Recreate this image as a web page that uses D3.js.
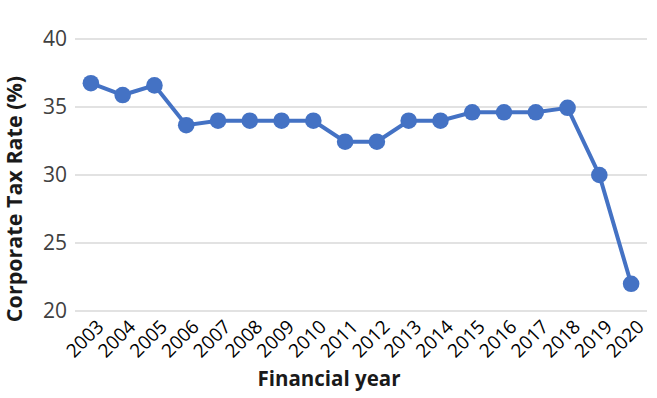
<!DOCTYPE html>
<html><head><meta charset="utf-8">
<script src="https://cdn.jsdelivr.net/npm/d3@7"></script>
<style>body{margin:0;background:#fff;} svg{display:block;}</style>
</head><body>
<script>
const years = ["2003","2004","2005","2006","2007","2008","2009","2010","2011","2012","2013","2014","2015","2016","2017","2018","2019","2020"];
const taxRate = [36.75,35.88,36.59,33.66,33.99,33.99,33.99,33.99,32.45,32.45,33.99,33.99,34.61,34.61,34.61,34.94,30,22];
const yTicks = [20,25,30,35,40];

const W = 657, H = 398;
const svg = d3.select("body").append("svg").attr("width", W).attr("height", H);
const x = d3.scaleBand().domain(years).range([75, 647]);
const y = d3.scaleLinear().domain([20, 40]).range([311, 39]);

// gridlines
svg.append("g").selectAll("line").data(yTicks).join("line")
  .attr("x1", 75).attr("x2", 647)
  .attr("y1", d => y(d)).attr("y2", d => y(d))
  .attr("stroke", "#d9d9d9").attr("stroke-width", 1.5);

// y axis labels
const yAxis = d3.axisLeft(y).tickValues(yTicks).tickSize(0).tickPadding(8);
const gy = svg.append("g").attr("transform", "translate(75,0)").call(yAxis);
gy.select(".domain").remove();
gy.selectAll("text").attr("font-family", "Open Sans").attr("font-size", 21).attr("fill", "#404040");

// x axis labels
const xAxis = d3.axisBottom(x).tickSize(0).tickPadding(0);
const gx = svg.append("g").attr("transform", "translate(0,311)").call(xAxis);
gx.select(".domain").remove();
gx.selectAll("text")
  .attr("font-family", "Open Sans").attr("font-size", 19).attr("fill", "#000")
  .attr("text-anchor", "end").attr("dy", 0).attr("y", 0)
  .attr("transform", "translate(14,17) rotate(-45)");

// line
const line = d3.line().x((d, i) => x(years[i]) + x.bandwidth() / 2).y(d => y(d));
svg.append("path").datum(taxRate).attr("d", line)
  .attr("fill", "none").attr("stroke", "#4472C4").attr("stroke-width", 4);
svg.append("g").selectAll("circle").data(taxRate).join("circle")
  .attr("cx", (d, i) => x(years[i]) + x.bandwidth() / 2).attr("cy", d => y(d))
  .attr("r", 8.3).attr("fill", "#4472C4");

// axis titles
svg.append("text").attr("x", 329).attr("y", 386).attr("text-anchor", "middle")
  .attr("font-family", "Open Sans").attr("font-weight", "bold").attr("font-size", 20.5)
  .attr("fill", "#1a1a1a").text("Financial year");
svg.append("text").attr("transform", "translate(22,199) rotate(-90)").attr("text-anchor", "middle")
  .attr("font-family", "Open Sans").attr("font-weight", "bold").attr("font-size", 21.5)
  .attr("fill", "#1a1a1a").text("Corporate Tax Rate (%)");
</script>
</body></html>
